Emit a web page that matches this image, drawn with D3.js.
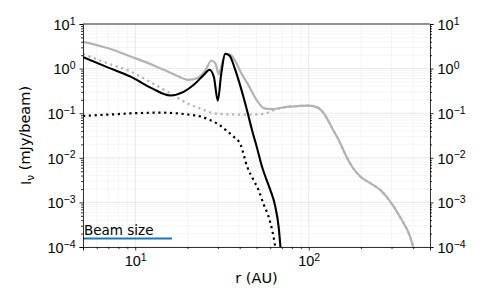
<!DOCTYPE html>
<html>
<head>
<meta charset="utf-8">
<script src="https://cdn.jsdelivr.net/npm/d3@7"></script>
<style>
    body { margin: 0; background: #fff; }
    svg { display: block; font-family: "DejaVu Sans", sans-serif; }
    .grid-major line { stroke: #e3e3e3; stroke-width: 0.8; }
    .grid-minor line { stroke: #f0f0f0; stroke-width: 0.6; }
    .axis path, .axis line { stroke: #000; stroke-width: 0.8; }
    .axis text { font-size: 14.5px; fill: #000; }
</style>
</head>
<body>
<div id="chart"></div>
<script>
const width = 491;
const height = 307;
const margin = { top: 24, right: 61, bottom: 60, left: 83 };

// radius (AU), intensity (mJy/beam)
const totalRadius = [5, 7, 9.4, 13, 17, 20.2, 23, 25.5, 27.4, 29, 30.3, 31.5, 33, 35, 37.5, 40.4, 45, 50, 55, 60, 75, 90, 100, 112, 122, 137, 152, 165, 178, 199, 230, 259, 285, 309, 335, 353, 380, 400];
const totalFlux = [4.0, 2.85, 1.87, 1.15, 0.72, 0.56, 0.62, 0.95, 1.5, 1.3, 0.75, 1.2, 2.15, 2.1, 1.55, 0.86, 0.42, 0.2, 0.13, 0.123, 0.138, 0.146, 0.148, 0.135, 0.1, 0.045, 0.0212, 0.0105, 0.0063, 0.00376, 0.0026, 0.00189, 0.00125, 0.0008, 0.00048, 0.000337, 0.00019, 0.0001];

const outerRadius = [5, 7, 9.4, 12, 15.2, 19.9, 24, 28.3, 35, 42, 50, 57, 62, 75, 90, 100, 112, 122, 137, 152, 165, 178, 199, 230, 259, 285, 309, 335, 353, 380, 400];
const outerFlux = [2.12, 1.3, 0.86, 0.52, 0.31, 0.168, 0.125, 0.1, 0.094, 0.093, 0.094, 0.1, 0.115, 0.138, 0.146, 0.148, 0.135, 0.1, 0.045, 0.0212, 0.0105, 0.0063, 0.00376, 0.0026, 0.00189, 0.00125, 0.0008, 0.00048, 0.000337, 0.00019, 0.0001];

const ringRadius = [5, 7, 9.4, 12.5, 15.9, 19, 22, 24.8, 26.8, 28.4, 29.9, 31.3, 33, 35, 37.5, 40.4, 44, 47.1, 50.5, 53.8, 57, 60.1, 64.2, 67.1, 68.7];
const ringFlux = [1.81, 1.05, 0.66, 0.36, 0.25, 0.3, 0.45, 0.72, 0.94, 0.65, 0.19, 0.75, 2.16, 1.95, 1.0, 0.4, 0.12, 0.042, 0.016, 0.0063, 0.0033, 0.00189, 0.0008, 0.00028, 0.0001];

const innerRadius = [5, 7, 10, 13.9, 17, 20.7, 23.7, 27, 30.9, 34, 36.9, 40.4, 44.2, 48, 51.4, 55, 58.7, 62, 64.2];
const innerFlux = [0.087, 0.093, 0.1, 0.103, 0.1, 0.092, 0.085, 0.07, 0.053, 0.039, 0.0298, 0.02, 0.0063, 0.0032, 0.00189, 0.0009, 0.00048, 0.00021, 0.0001];

const beamRadius = [5, 16.3];
const beamLevel = 1.55e-4;

const xDomain = [5, 500];
const yDomain = [1e-4, 10];
const xMajor = [10, 100];
const yMajor = [1e-4, 1e-3, 1e-2, 1e-1, 1, 10];

const fmtExp = (v) => String(Math.round(Math.log10(v))).replace('-', '\u2212');

const svg = d3.select('#chart')
    .append('svg')
    .attr('width', width)
    .attr('height', height);

const innerW = width - margin.left - margin.right;
const innerH = height - margin.top - margin.bottom;

const x = d3.scaleLog().domain(xDomain).range([margin.left, margin.left + innerW]);
const y = d3.scaleLog().domain(yDomain).range([margin.top + innerH, margin.top]);

// minor tick values: 2..9 within each decade
const minorValues = (scale) => {
    const [lo, hi] = scale.domain();
    const out = [];
    for (let e = Math.floor(Math.log10(lo)); e <= Math.ceil(Math.log10(hi)); e++) {
        for (let k = 2; k <= 9; k++) {
            const v = k * Math.pow(10, e);
            if (v >= lo && v <= hi) out.push(v);
        }
    }
    return out;
};
const xMinor = minorValues(x);
const yMinor = minorValues(y);

svg.append('defs').append('clipPath').attr('id', 'plotClip')
    .append('rect')
    .attr('x', margin.left).attr('y', margin.top)
    .attr('width', innerW).attr('height', innerH);

// GRID
const gridLines = (cls, xs, ys) => {
    const g = svg.append('g').classed(cls, true);
    g.selectAll('.vx').data(xs).enter().append('line')
        .attr('x1', d => x(d)).attr('x2', d => x(d))
        .attr('y1', margin.top).attr('y2', margin.top + innerH);
    g.selectAll('.hy').data(ys).enter().append('line')
        .attr('y1', d => y(d)).attr('y2', d => y(d))
        .attr('x1', margin.left).attr('x2', margin.left + innerW);
};
gridLines('grid-minor', xMinor, yMinor);
gridLines('grid-major', xMajor, yMajor);

// CURVES
const line = d3.line()
    .x(d => x(d[0]))
    .y(d => y(d[1]))
    .curve(d3.curveMonotoneX);

const plot = svg.append('g').attr('clip-path', 'url(#plotClip)');

const series = [
    { r: outerRadius, f: outerFlux, color: '#b3b3b3', width: 2.2, dash: '2.2,3.6' },
    { r: totalRadius, f: totalFlux, color: '#b3b3b3', width: 2.2, dash: null },
    { r: innerRadius, f: innerFlux, color: '#000', width: 2.2, dash: '2.2,3.6' },
    { r: ringRadius, f: ringFlux, color: '#000', width: 2.1, dash: null }
];

series.forEach(s => {
    plot.append('path')
        .datum(d3.zip(s.r, s.f))
        .attr('fill', 'none')
        .attr('stroke', s.color)
        .attr('stroke-width', s.width)
        .attr('stroke-dasharray', s.dash)
        .attr('stroke-linejoin', 'round')
        .attr('d', line);
});

// BEAM SIZE
plot.append('path')
    .datum(beamRadius.map(r => [r, beamLevel]))
    .attr('fill', 'none')
    .attr('stroke', '#1f77b4')
    .attr('stroke-width', 2.2)
    .attr('d', d3.line().x(d => x(d[0])).y(d => y(d[1])));

svg.append('text')
    .attr('x', x(beamRadius[0]) + 1)
    .attr('y', y(beamLevel) - 4)
    .attr('font-size', 13.5)
    .text('Beam size');

// AXES
const expLabel = (sel, v) => {
    sel.text('');
    sel.append('tspan').text('10');
    sel.append('tspan').attr('dy', '-0.5em').attr('font-size', '10.5px').text(fmtExp(v));
};

const addAxis = (makeAxis, scale, tx, ty, major, minor, dy) => {
    const g = svg.append('g').classed('axis', true)
        .attr('transform', `translate(${tx},${ty})`)
        .call(makeAxis(scale).tickValues(major).tickSize(3.5).tickPadding(4).tickFormat(() => ''));
    g.selectAll('.tick text').each(function (d) {
        d3.select(this).attr('dy', dy).call(expLabel, d);
    });
    svg.append('g').classed('axis', true)
        .attr('transform', `translate(${tx},${ty})`)
        .call(makeAxis(scale).tickValues(minor).tickSize(2).tickFormat(() => ''))
        .select('.domain').remove();
};

addAxis(d3.axisBottom, x, 0, margin.top + innerH, xMajor, xMinor, '0.8em');
addAxis(d3.axisLeft, y, margin.left, 0, yMajor, yMinor, '0.37em');
addAxis(d3.axisRight, y, margin.left + innerW, 0, yMajor, yMinor, '0.37em');

svg.append('line')
    .attr('x1', margin.left).attr('x2', margin.left + innerW)
    .attr('y1', margin.top).attr('y2', margin.top)
    .attr('stroke', '#000').attr('stroke-width', 0.8);

// AXIS LABELS
svg.append('text')
    .attr('x', margin.left + innerW / 2)
    .attr('y', 283)
    .attr('text-anchor', 'middle')
    .attr('font-size', 14.5)
    .text('r (AU)');

const yLabel = svg.append('text')
    .attr('transform', `translate(31,${margin.top + innerH / 2}) rotate(-90)`)
    .attr('text-anchor', 'middle')
    .attr('font-size', 14.5);
yLabel.append('tspan').text('I');
yLabel.append('tspan').attr('dy', '0.3em').attr('font-size', '10.5px').text('\u03bd');
yLabel.append('tspan').attr('dy', '-0.3em').text(' (mJy/beam)');
</script>
</body>
</html>
